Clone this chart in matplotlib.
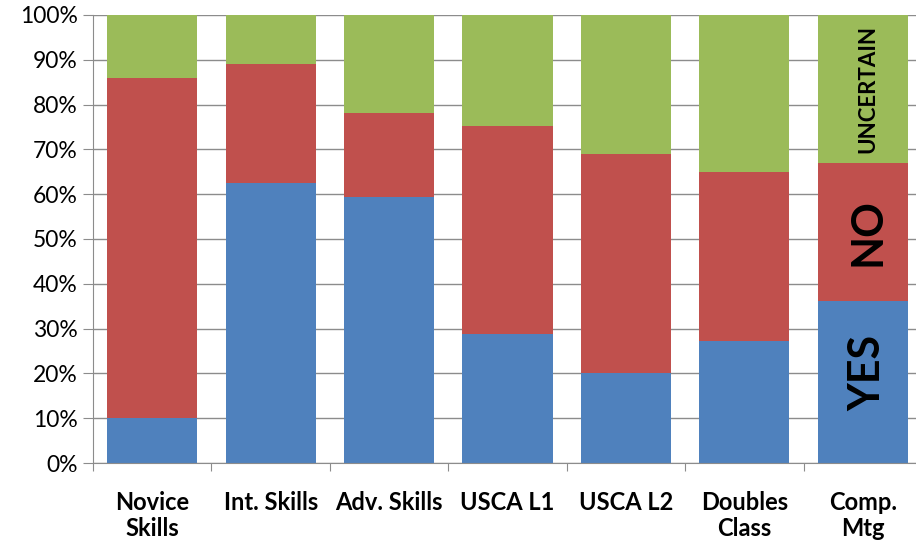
import matplotlib.pyplot as plt
import numpy as np

plt.rcParams['font.family'] = ['Lato', 'DejaVu Sans']

categories = ['Novice\nSkills', 'Int. Skills', 'Adv. Skills', 'USCA L1', 'USCA L2', 'Doubles\nClass', 'Comp.\nMtg']
yes = np.array([10, 62.5, 59.4, 28.8, 20.1, 27.2, 36.2])
no_top = np.array([86, 89, 78.1, 75.2, 69, 65, 67])   # cumulative top of the red part
no = no_top - yes
uncertain = 100 - no_top
labels = ['YES', 'NO', 'UNCERTAIN']

blue = '#4F81BD'
red = '#C0504D'
green = '#9BBB59'

fig = plt.figure(figsize=(9.16, 5.42), dpi=100)
ax = fig.add_axes([93/916, 1 - 463/542, 829/916, 448/542])

x = np.arange(len(categories))
w = 0.76
ax.bar(x, yes, w, color=blue, zorder=2)
ax.bar(x, no, w, bottom=yes, color=red, zorder=2)
ax.bar(x, uncertain, w, bottom=no_top, color=green, zorder=2)

ax.set_xlim(-0.5, len(categories) - 0.5)
ax.set_ylim(0, 100)
ax.set_yticks(np.arange(0, 101, 10))
ax.set_yticklabels([f'{v}%' for v in range(0, 101, 10)], fontsize=16.5)
ax.yaxis.grid(True, color='#8C8C8C', linewidth=1, zorder=0)
ax.set_axisbelow(True)

ax.set_xticks(np.arange(len(categories) + 1) - 0.5, minor=False)
ax.set_xticklabels([])
ax.set_xticks(x, minor=True)
ax.set_xticklabels(categories, minor=True, fontsize=17, fontweight='bold', linespacing=1.15)
ax.tick_params(axis='x', which='minor', length=0, pad=20)
ax.tick_params(axis='x', which='major', length=6, color='#8C8C8C', direction='out')
ax.tick_params(axis='y', length=7, color='#8C8C8C', direction='out', pad=4)

for s in ['top', 'right']:
    ax.spines[s].set_visible(False)
for s in ['left', 'bottom']:
    ax.spines[s].set_color('#8C8C8C')

# segment labels on the last bar
last = len(categories) - 1
ax.text(x[last] + 0.04, yes[last] / 2 + 2, labels[0], rotation=90, ha='center', va='center',
        fontsize=31, fontweight='bold', zorder=3)
ax.text(x[last] + 0.04, yes[last] + no[last] / 2, labels[1], rotation=90, ha='center', va='center',
        fontsize=31, fontweight='bold', zorder=3)
ax.text(x[last] + 0.04, no_top[last] + uncertain[last] / 2, labels[2], rotation=90, ha='center',
        va='center', fontsize=16, fontweight='bold', zorder=3)

fig.savefig('out.png', dpi=100)
